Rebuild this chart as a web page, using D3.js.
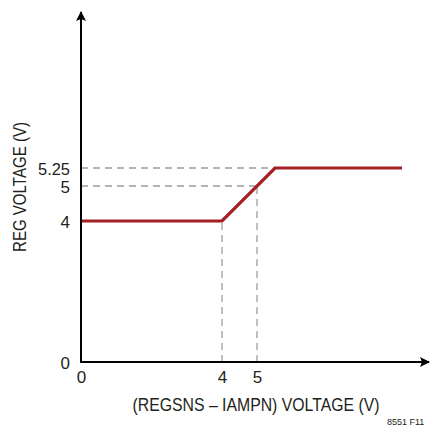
<!DOCTYPE html>
<html><head><meta charset="utf-8">
<script src="https://cdn.jsdelivr.net/npm/d3@7"></script>
<style>
html,body{margin:0;padding:0;background:#fff;}
text{font-family:"Liberation Sans Narrow","Arial Narrow","Liberation Sans",sans-serif;fill:#231f20;}
</style></head>
<body>
<svg id="c" width="430" height="429"></svg>
<script>
// Data (schematic transfer curve)
const xValues = [0, 4, 5.25, 7];
const yValues = [4, 4, 5.25, 5.25];
const xTicks = [0, 4, 5];
const yTicks = [0, 4, 5, 5.25];
const xTickLabels = ["0", "4", "5"];
const yTickLabels = ["0", "4", "5", "5.25"];
const guideX = [4, 5];       // vertical dashed guides
const guideY = [5, 5.25];    // horizontal dashed guides
const xTitle = "(REGSNS – IAMPN) VOLTAGE (V)";
const yTitle = "REG VOLTAGE (V)";
const figId = "8551 F11";

const svg = d3.select("#c");
// schematic (piecewise) scales
const x = d3.scaleLinear().domain([0, 4, 5, 5.25, 7]).range([81, 222, 257, 275, 402]);
const y = d3.scaleLinear().domain([0, 4, 5, 5.25]).range([362, 221, 186, 168]);

const pts = xValues.map((v, i) => [v, yValues[i]]);
const curveY = d3.scaleLinear().domain(xValues.slice(1,3)).range(yValues.slice(1,3)).clamp(true);
const curveX = d3.scaleLinear().domain(yValues.slice(1,3)).range(xValues.slice(1,3)).clamp(true);

const dash = "7,5";
const gcol = "#9d9d9d";
svg.selectAll(".hg").data(guideY).join("line")
  .attr("x1", x(0)).attr("x2", d => x(curveX(d)))
  .attr("y1", d => y(d)).attr("y2", d => y(d))
  .attr("stroke", gcol).attr("stroke-width", 1.3).attr("stroke-dasharray", dash);
svg.selectAll(".vg").data(guideX).join("line")
  .attr("x1", d => x(d)).attr("x2", d => x(d))
  .attr("y1", y(0)).attr("y2", d => y(curveY(d)))
  .attr("stroke", gcol).attr("stroke-width", 1.3).attr("stroke-dasharray", dash);

svg.append("path").datum(pts)
  .attr("d", d3.line().x(d => x(d[0])).y(d => y(d[1])))
  .attr("fill", "none").attr("stroke", "#a31f22").attr("stroke-width", 3.2)
  .attr("stroke-linejoin", "miter");

const axY = svg.append("g").attr("transform", `translate(${x(0)},0)`)
  .call(d3.axisLeft(y).tickValues(yTicks).tickSize(0).tickPadding(11)
    .tickFormat((d, i) => yTickLabels[i]));
axY.select(".domain").remove();
const axX = svg.append("g").attr("transform", `translate(0,${y(0)})`)
  .call(d3.axisBottom(x).tickValues(xTicks).tickSize(0).tickPadding(9)
    .tickFormat((d, i) => xTickLabels[i]));
axX.select(".domain").remove();
svg.selectAll(".tick text").attr("font-size", 17).attr("fill", "#231f20")
  .style("font-family", '"Liberation Sans Narrow","Liberation Sans",sans-serif');
axY.selectAll(".tick text").attr("dy", "0.36em");
axY.selectAll(".tick text").filter((d, i) => yTickLabels[i] === "5.25")
  .attr("textLength", 32).attr("lengthAdjust", "spacingAndGlyphs");

svg.append("defs").append("marker").attr("id", "arr")
  .attr("viewBox", "0 0 10 10").attr("refX", 9).attr("refY", 5)
  .attr("markerWidth", 10).attr("markerHeight", 10).attr("markerUnits", "userSpaceOnUse")
  .attr("orient", "auto")
  .append("path").attr("d", "M0,0 L10,5 L0,10 L2,5 Z").attr("fill", "#000");
svg.append("line").attr("x1", x(0)).attr("y1", y(0)+1).attr("x2", x(0)).attr("y2", 12)
  .attr("stroke", "#000").attr("stroke-width", 2).attr("marker-end", "url(#arr)");
svg.append("line").attr("x1", x(0)-1).attr("y1", y(0)).attr("x2", 429).attr("y2", y(0))
  .attr("stroke", "#000").attr("stroke-width", 2).attr("marker-end", "url(#arr)");

svg.append("text").attr("x", 256).attr("y", 411).attr("text-anchor", "middle")
  .attr("font-size", 18).attr("textLength", 247).attr("lengthAdjust", "spacingAndGlyphs")
  .text(xTitle);
svg.append("text").attr("transform", "translate(26,187) rotate(-90)").attr("text-anchor", "middle")
  .attr("font-size", 18).attr("textLength", 130).attr("lengthAdjust", "spacingAndGlyphs")
  .text(yTitle);
svg.append("text").attr("x", 387).attr("y", 425).attr("font-size", 9).text(figId);
</script>
</body></html>
